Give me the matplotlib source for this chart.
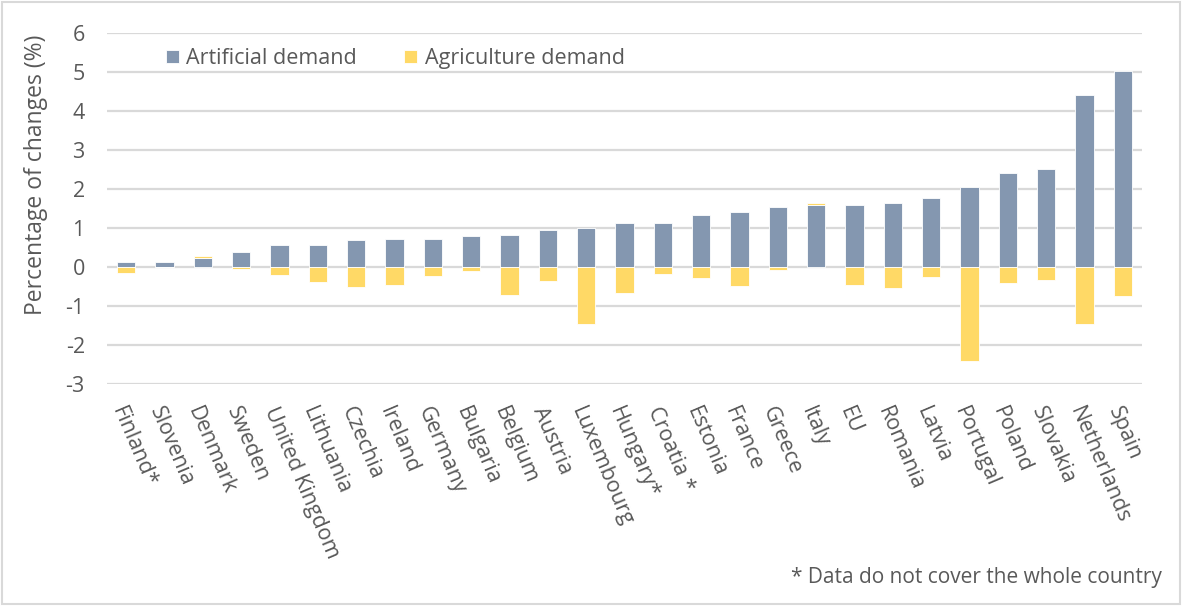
import numpy as np
import matplotlib.pyplot as plt
from matplotlib.patches import Rectangle

plt.rcParams['font.family'] = ['Open Sans', 'DejaVu Sans']
plt.rcParams['axes.unicode_minus'] = False

countries = ['Finland*', 'Slovenia', 'Denmark', 'Sweden', 'United Kingdom', 'Lithuania',
             'Czechia', 'Ireland', 'Germany', 'Bulgaria', 'Belgium', 'Austria', 'Luxembourg',
             'Hungary*', 'Croatia *', 'Estonia', 'France', 'Greece', 'Italy', 'EU', 'Romania',
             'Latvia', 'Portugal', 'Poland', 'Slovakia', 'Netherlands', 'Spain']
artificial = [0.13, 0.13, 0.23, 0.39, 0.56, 0.56, 0.69, 0.72, 0.72, 0.79, 0.82, 0.96, 1.01,
              1.14, 1.14, 1.34, 1.40, 1.53, 1.59, 1.60, 1.63, 1.76, 2.06, 2.42, 2.52, 4.40, 5.02]
agriculture = [-0.15, 0.0, 0.06, -0.06, -0.20, -0.39, -0.50, -0.46, -0.23, -0.09, -0.72, -0.36, -1.46,
               -0.67, -0.18, -0.27, -0.48, -0.08, 0.04, -0.45, -0.54, -0.25, -2.42, -0.41, -0.34, -1.46, -0.74]

blue = '#8497B0'
yellow = '#FFD966'
txt = '#595959'

art = np.array(artificial)
agr = np.array(agriculture)
x = np.arange(len(countries))

fig = plt.figure(figsize=(11.82, 6.06), dpi=100)
ax = fig.add_axes([107 / 1182, 1 - 384 / 606, (1142 - 107) / 1182, (384 - 33) / 606])

ax.bar(x, art, width=0.47, color=blue, edgecolor='white', linewidth=0.6, zorder=3,
       label='Artificial demand')
ax.bar(x, agr, width=0.47, bottom=np.where(agr > 0, art, 0), color=yellow,
       edgecolor='white', linewidth=0.6, zorder=3, label='Agriculture demand')

ax.set_ylim(-3, 6)
ax.set_xlim(-0.5, len(countries) - 0.5)
ax.set_yticks(range(-3, 7))
ax.yaxis.grid(True, color='#D9D9D9', linewidth=1.6, zorder=0)
ax.set_axisbelow(True)
for s in ax.spines.values():
    s.set_visible(False)
ax.tick_params(axis='both', length=0, colors=txt, labelsize=15.5)
ax.tick_params(axis='y', pad=16)
ax.set_xticks(x)
ax.set_xticklabels(countries, rotation=-67, ha='left', va='top', rotation_mode='anchor',
                   fontsize=15.5)
ax.tick_params(axis='x', pad=14)

fig.text(36 / 1182, 1 - 175 / 606, 'Percentage of changes (%)', rotation=90,
         ha='center', va='center', color=txt, fontsize=16.5)

ax.legend(loc='upper left', bbox_to_anchor=(0.038, 1.012), ncol=2, frameon=False,
          fontsize=15.5, labelcolor=txt, handlelength=0.6, handleheight=0.6,
          handletextpad=0.35, columnspacing=2.2)

fig.text(1162 / 1182, 1 - 578 / 606, '* Data do not cover the whole country',
         ha='right', va='center', color=txt, fontsize=15)

fig.patches.append(Rectangle((0.002, 0.003), 0.996, 0.994, transform=fig.transFigure,
                             fill=False, edgecolor='#D9D9D9', linewidth=1.5))

fig.savefig('out.png', dpi=100)
